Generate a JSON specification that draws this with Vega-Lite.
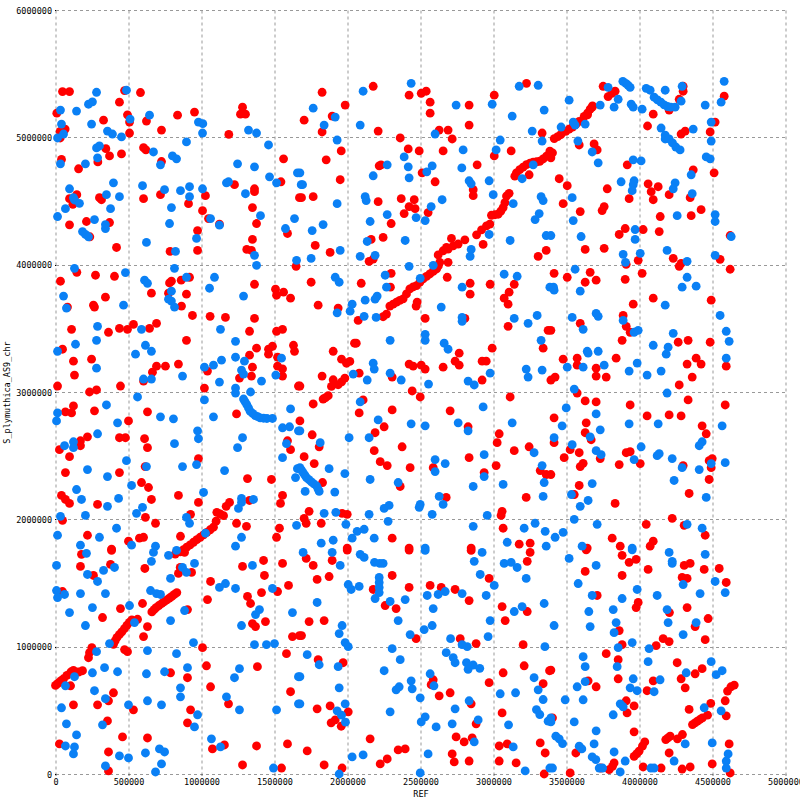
{"$schema":"https://vega.github.io/schema/vega-lite/v6.json","autosize":"none","width":730,"height":764,"padding":{"left":55.5,"top":10,"right":14.5,"bottom":26},"background":"white","config":{"view":{"stroke":null}},"datasets":{"red":[
{"x":48000,"y":5359000},{"x":96000,"y":5359000},{"x":473000,"y":5367000},{"x":582000,"y":5352000},{"x":438000,"y":5276000},{"x":9000,"y":5190000},{"x":493000,"y":5177000},{"x":507000,"y":5120000},{"x":623000,"y":5128000},{"x":329000,"y":5135000},{"x":836000,"y":5174000},{"x":952000,"y":5198000},{"x":1281000,"y":5237000},{"x":1267000,"y":5182000},{"x":1301000,"y":5182000},{"x":66000,"y":5065000},{"x":32000,"y":5047000},{"x":32000,"y":4995000},{"x":507000,"y":5034000},{"x":726000,"y":5057000},{"x":1187000,"y":5023000},{"x":603000,"y":4919000},{"x":619000,"y":4901000},{"x":345000,"y":4911000},{"x":370000,"y":4854000},{"x":452000,"y":4870000},{"x":290000,"y":4807000},{"x":41000,"y":4826000},{"x":158000,"y":4753000},{"x":726000,"y":4810000},{"x":1562000,"y":4831000},{"x":1544000,"y":4651000},{"x":1226000,"y":4628000},{"x":1363000,"y":4596000},{"x":1363000,"y":4573000},{"x":1671000,"y":4526000},{"x":1027000,"y":4542000},{"x":719000,"y":4550000},{"x":603000,"y":4518000},{"x":301000,"y":4526000},{"x":315000,"y":4510000},{"x":146000,"y":4550000},{"x":96000,"y":4518000},{"x":119000,"y":4474000},{"x":911000,"y":4479000},{"x":1007000,"y":4424000},{"x":1349000,"y":4448000},{"x":1048000,"y":4362000},{"x":1123000,"y":4318000},{"x":370000,"y":4331000},{"x":212000,"y":4339000},{"x":96000,"y":4313000},{"x":1377000,"y":4323000},{"x":1589000,"y":4245000},{"x":973000,"y":4268000},{"x":1349000,"y":4198000},{"x":235000,"y":4219000},{"x":418000,"y":4135000},{"x":785000,"y":4104000},{"x":973000,"y":4112000},{"x":1310000,"y":4120000},{"x":1342000,"y":4112000},{"x":1648000,"y":3987000},{"x":146000,"y":3940000},{"x":34000,"y":3870000},{"x":274000,"y":3917000},{"x":404000,"y":3909000},{"x":794000,"y":3870000},{"x":781000,"y":3857000},{"x":861000,"y":3878000},{"x":918000,"y":3901000},{"x":1363000,"y":3846000},{"x":657000,"y":3776000},{"x":774000,"y":3776000},{"x":897000,"y":3768000},{"x":1507000,"y":3807000},{"x":1514000,"y":3760000},{"x":1562000,"y":3784000},{"x":1610000,"y":3737000},{"x":342000,"y":3745000},{"x":82000,"y":3667000},{"x":260000,"y":3682000},{"x":267000,"y":3667000},{"x":863000,"y":3675000},
{"x":3226000,"y":5424000},{"x":2176000,"y":5401000},{"x":1826000,"y":5354000},{"x":2422000,"y":5331000},{"x":2505000,"y":5346000},{"x":2539000,"y":5362000},{"x":2566000,"y":5276000},{"x":3005000,"y":5331000},{"x":1984000,"y":5253000},{"x":2833000,"y":5253000},{"x":2566000,"y":5190000},{"x":1895000,"y":5167000},{"x":1703000,"y":5135000},{"x":1826000,"y":5042000},{"x":2210000,"y":5049000},{"x":2833000,"y":5096000},{"x":2628000,"y":5057000},{"x":2689000,"y":5057000},{"x":2717000,"y":4987000},{"x":3333000,"y":5034000},{"x":2361000,"y":4995000},{"x":1957000,"y":4893000},{"x":2416000,"y":4909000},{"x":2491000,"y":4893000},{"x":2655000,"y":4893000},{"x":3121000,"y":4893000},{"x":3005000,"y":4854000},{"x":1854000,"y":4823000},{"x":2217000,"y":4776000},{"x":2230000,"y":4784000},{"x":2888000,"y":4784000},{"x":1950000,"y":4667000},{"x":2511000,"y":4721000},{"x":2600000,"y":4651000},{"x":2861000,"y":4589000},{"x":2861000,"y":4542000},{"x":1765000,"y":4534000},{"x":1685000,"y":4526000},{"x":2210000,"y":4495000},{"x":2368000,"y":4518000},{"x":2457000,"y":4510000},{"x":2422000,"y":4456000},{"x":2463000,"y":4440000},{"x":2388000,"y":4401000},{"x":2552000,"y":4409000},{"x":2299000,"y":4323000},{"x":2244000,"y":4214000},{"x":2162000,"y":4198000},{"x":1779000,"y":4151000},{"x":1881000,"y":4096000},{"x":2929000,"y":4159000},{"x":3361000,"y":4112000},{"x":3306000,"y":4065000},{"x":2148000,"y":4026000},{"x":2176000,"y":4044000},{"x":2689000,"y":4018000},{"x":2683000,"y":3901000},{"x":2299000,"y":3932000},{"x":1751000,"y":3862000},{"x":2094000,"y":3854000},{"x":2294000,"y":3823000},{"x":2977000,"y":3846000},{"x":2840000,"y":3854000},{"x":2840000,"y":3768000},{"x":3142000,"y":3846000},{"x":3107000,"y":3784000},{"x":3073000,"y":3737000},{"x":3100000,"y":3690000},{"x":2477000,"y":3706000},{"x":2470000,"y":3675000},{"x":1799000,"y":3682000},{"x":1936000,"y":3659000},{"x":3244000,"y":4706000},
{"x":2290000,"y":3675000},{"x":2313000,"y":3690000},{"x":2336000,"y":3706000},{"x":2358000,"y":3720000},{"x":2381000,"y":3732000},{"x":2404000,"y":3770000},{"x":2427000,"y":3810000},{"x":2450000,"y":3825000},{"x":2473000,"y":3836000},{"x":2496000,"y":3862000},{"x":2518000,"y":3888000},{"x":2541000,"y":3908000},{"x":2564000,"y":3927000},{"x":2587000,"y":3947000},{"x":2610000,"y":3966000},{"x":2622000,"y":3990000},{"x":2632000,"y":4018000},{"x":2621000,"y":4076000},{"x":2655000,"y":4109000},{"x":2678000,"y":4135000},{"x":2689000,"y":4122000},{"x":2724000,"y":4148000},{"x":2758000,"y":4162000},{"x":2804000,"y":4195000},{"x":2712000,"y":4206000},{"x":2884000,"y":4234000},{"x":2918000,"y":4273000},{"x":2952000,"y":4305000},{"x":2975000,"y":4318000},{"x":2986000,"y":4388000},{"x":3010000,"y":4392000},{"x":3032000,"y":4396000},{"x":3050000,"y":4420000},{"x":3066000,"y":4448000},{"x":3078000,"y":4487000},{"x":3089000,"y":4539000},{"x":3107000,"y":4560000},{"x":3146000,"y":4695000},{"x":3157000,"y":4721000},{"x":3180000,"y":4747000},{"x":3203000,"y":4766000},{"x":3226000,"y":4786000},{"x":3250000,"y":4797000},{"x":3272000,"y":4805000},{"x":3295000,"y":4808000},{"x":3317000,"y":4812000},{"x":3340000,"y":4830000},{"x":3363000,"y":4852000},{"x":3386000,"y":4891000},{"x":3416000,"y":4990000},{"x":3440000,"y":5005000},{"x":3461000,"y":5021000},{"x":3495000,"y":5047000},{"x":3518000,"y":5064000},{"x":3541000,"y":5081000},{"x":3565000,"y":5103000},{"x":3587000,"y":5125000},{"x":3621000,"y":5164000},{"x":3644000,"y":5190000},{"x":3662000,"y":5221000},{"x":3678000,"y":5247000},
{"x":3751000,"y":5401000},{"x":3785000,"y":5320000},{"x":3810000,"y":5346000},{"x":3833000,"y":5362000},{"x":3676000,"y":5237000},{"x":3644000,"y":5177000},{"x":4299000,"y":5401000},{"x":4299000,"y":5362000},{"x":4272000,"y":5299000},{"x":4580000,"y":5323000},{"x":4203000,"y":5214000},{"x":4094000,"y":5182000},{"x":4055000,"y":5089000},{"x":4518000,"y":5120000},{"x":4313000,"y":5049000},{"x":4285000,"y":5026000},{"x":4484000,"y":5042000},{"x":3689000,"y":4948000},{"x":3710000,"y":4901000},{"x":3587000,"y":4940000},{"x":3916000,"y":4784000},{"x":4368000,"y":4745000},{"x":4511000,"y":4721000},{"x":3450000,"y":4675000},{"x":3505000,"y":4620000},{"x":3779000,"y":4596000},{"x":4059000,"y":4635000},{"x":4128000,"y":4612000},{"x":4080000,"y":4573000},{"x":4094000,"y":4510000},{"x":4203000,"y":4550000},{"x":3929000,"y":4518000},{"x":4347000,"y":4526000},{"x":3477000,"y":4479000},{"x":3594000,"y":4417000},{"x":3758000,"y":4456000},{"x":3744000,"y":4425000},{"x":4422000,"y":4432000},{"x":4142000,"y":4378000},{"x":4354000,"y":4385000},{"x":3902000,"y":4284000},{"x":3861000,"y":4237000},{"x":4025000,"y":4276000},{"x":4135000,"y":4260000},{"x":4621000,"y":4229000},{"x":3628000,"y":4120000},{"x":3758000,"y":4128000},{"x":3991000,"y":4034000},{"x":3909000,"y":4003000},{"x":4231000,"y":4050000},{"x":4272000,"y":3987000},{"x":4285000,"y":4010000},{"x":4552000,"y":4042000},{"x":4621000,"y":3964000},{"x":3415000,"y":3932000},{"x":3662000,"y":3940000},{"x":3505000,"y":3901000},{"x":3628000,"y":3862000},{"x":3703000,"y":3878000},{"x":3902000,"y":3885000},{"x":4018000,"y":3932000},{"x":4094000,"y":3737000},{"x":3957000,"y":3690000},{"x":4491000,"y":3721000},{"x":3404000,"y":4878000},{"x":3393000,"y":4839000},
{"x":938000,"y":3601000},{"x":1059000,"y":3594000},{"x":1164000,"y":3586000},{"x":1363000,"y":3578000},{"x":110000,"y":3492000},{"x":363000,"y":3469000},{"x":438000,"y":3500000},{"x":493000,"y":3492000},{"x":534000,"y":3531000},{"x":644000,"y":3500000},{"x":692000,"y":3539000},{"x":1329000,"y":3477000},{"x":1514000,"y":3477000},{"x":1555000,"y":3492000},{"x":897000,"y":3406000},{"x":48000,"y":3336000},{"x":1630000,"y":3367000},{"x":1637000,"y":3320000},{"x":1377000,"y":3344000},{"x":1459000,"y":3336000},{"x":1486000,"y":3359000},{"x":1459000,"y":3297000},{"x":1329000,"y":3289000},{"x":123000,"y":3242000},{"x":247000,"y":3258000},{"x":842000,"y":3219000},{"x":753000,"y":3203000},{"x":692000,"y":3203000},{"x":664000,"y":3156000},{"x":603000,"y":3086000},{"x":1521000,"y":3273000},{"x":1521000,"y":3203000},{"x":1555000,"y":3182000},{"x":1555000,"y":3125000},{"x":1349000,"y":3195000},{"x":1342000,"y":3125000},{"x":1041000,"y":3164000},{"x":130000,"y":3133000},{"x":1260000,"y":3109000},{"x":14000,"y":3047000},{"x":445000,"y":3047000},{"x":233000,"y":3000000},{"x":281000,"y":3016000},{"x":1020000,"y":3031000},{"x":1664000,"y":3047000},{"x":123000,"y":2891000},{"x":68000,"y":2844000},{"x":110000,"y":2836000},{"x":267000,"y":2852000},{"x":630000,"y":2844000},{"x":1240000,"y":2828000},{"x":500000,"y":2773000},{"x":1589000,"y":2617000},{"x":1610000,"y":2547000},{"x":438000,"y":2641000},{"x":479000,"y":2641000},{"x":219000,"y":2648000},{"x":171000,"y":2617000},{"x":171000,"y":2578000},{"x":610000,"y":2633000},{"x":630000,"y":2563000},{"x":27000,"y":2547000},{"x":96000,"y":2492000},{"x":979000,"y":2477000},{"x":614000,"y":2414000},{"x":68000,"y":2367000},{"x":438000,"y":2367000},{"x":1315000,"y":2320000},{"x":1479000,"y":2313000},{"x":589000,"y":2289000},{"x":637000,"y":2250000},{"x":41000,"y":2188000},{"x":68000,"y":2156000},{"x":96000,"y":2125000},{"x":842000,"y":2188000},{"x":1555000,"y":2188000},{"x":657000,"y":2156000},{"x":288000,"y":2117000},{"x":979000,"y":2133000},{"x":1541000,"y":2125000},{"x":1192000,"y":2133000},{"x":1169000,"y":2102000},{"x":1329000,"y":2148000},{"x":48000,"y":1992000},{"x":616000,"y":2016000},{"x":925000,"y":2039000},{"x":685000,"y":1969000},{"x":1240000,"y":1969000},{"x":1308000,"y":1945000},{"x":1534000,"y":1930000},{"x":219000,"y":1875000},{"x":575000,"y":1852000},{"x":603000,"y":1859000},{"x":856000,"y":1867000},{"x":1514000,"y":1859000},{"x":500000,"y":1828000},{"x":384000,"y":1766000},
{"x":1105000,"y":2055000},{"x":1128000,"y":2042000},{"x":1151000,"y":2029000},{"x":1100000,"y":1985000},{"x":1082000,"y":1938000},{"x":1059000,"y":1918000},{"x":1036000,"y":1898000},{"x":1014000,"y":1878000},{"x":991000,"y":1859000},{"x":968000,"y":1840000},{"x":945000,"y":1820000},{"x":922000,"y":1800000},{"x":899000,"y":1781000},{"x":877000,"y":1762000},{"x":854000,"y":1745000},{"x":820000,"y":1727000},
{"x":2532000,"y":3578000},{"x":2073000,"y":3562000},{"x":2804000,"y":3578000},{"x":3100000,"y":3516000},{"x":3374000,"y":3484000},{"x":3340000,"y":3344000},{"x":2048000,"y":3383000},{"x":2060000,"y":3383000},{"x":1902000,"y":3320000},{"x":2765000,"y":3305000},{"x":2991000,"y":3344000},{"x":1959000,"y":3258000},{"x":1993000,"y":3226000},{"x":2016000,"y":3240000},{"x":2737000,"y":3242000},{"x":2765000,"y":3211000},{"x":2922000,"y":3242000},{"x":2950000,"y":3242000},{"x":2422000,"y":3219000},{"x":2450000,"y":3203000},{"x":2505000,"y":3211000},{"x":2532000,"y":3180000},{"x":2655000,"y":3195000},{"x":2080000,"y":3148000},{"x":1826000,"y":3125000},{"x":2306000,"y":3117000},{"x":2922000,"y":3094000},{"x":1674000,"y":3047000},{"x":1902000,"y":3096000},{"x":1890000,"y":3044000},{"x":1936000,"y":3057000},{"x":1960000,"y":3080000},{"x":1982000,"y":3109000},{"x":2443000,"y":3008000},{"x":2498000,"y":2961000},{"x":3114000,"y":2961000},{"x":1833000,"y":2945000},{"x":1850000,"y":2955000},{"x":1868000,"y":2971000},{"x":1765000,"y":2906000},{"x":2107000,"y":2938000},{"x":2306000,"y":2859000},{"x":2080000,"y":2836000},{"x":2703000,"y":2852000},{"x":1674000,"y":2773000},{"x":2251000,"y":2727000},{"x":2826000,"y":2727000},{"x":2189000,"y":2680000},{"x":1758000,"y":2664000},{"x":3039000,"y":2672000},{"x":3025000,"y":2602000},{"x":1806000,"y":2570000},{"x":2374000,"y":2570000},{"x":2183000,"y":2539000},{"x":3142000,"y":2539000},{"x":3244000,"y":2570000},{"x":1703000,"y":2492000},{"x":2833000,"y":2484000},{"x":2224000,"y":2453000},{"x":2272000,"y":2422000},{"x":1772000,"y":2438000},{"x":3018000,"y":2422000},{"x":2429000,"y":2406000},{"x":2587000,"y":2406000},{"x":3320000,"y":2383000},{"x":3361000,"y":2352000},{"x":2936000,"y":2367000},{"x":1829000,"y":2289000},{"x":2361000,"y":2258000},{"x":2676000,"y":2172000},{"x":3224000,"y":2172000},{"x":1737000,"y":2063000},{"x":3059000,"y":2063000},{"x":3052000,"y":2031000},{"x":1703000,"y":2008000},{"x":1717000,"y":1969000},{"x":1963000,"y":2047000},{"x":1998000,"y":2039000},{"x":1820000,"y":1969000},{"x":3066000,"y":1930000},{"x":2306000,"y":1852000},{"x":3176000,"y":1805000},{"x":3251000,"y":1813000},{"x":1998000,"y":1774000},{"x":2422000,"y":1774000},{"x":2847000,"y":1774000},{"x":2267000,"y":3612000},{"x":2244000,"y":3591000},
{"x":3888000,"y":3601000},{"x":3594000,"y":3539000},{"x":3393000,"y":3484000},{"x":3909000,"y":3516000},{"x":3936000,"y":3469000},{"x":3881000,"y":3406000},{"x":4265000,"y":3391000},{"x":4333000,"y":3406000},{"x":4484000,"y":3391000},{"x":3477000,"y":3258000},{"x":3573000,"y":3266000},{"x":3573000,"y":3211000},{"x":3840000,"y":3266000},{"x":4388000,"y":3266000},{"x":4422000,"y":3219000},{"x":4326000,"y":3219000},{"x":3703000,"y":3187000},{"x":4594000,"y":3203000},{"x":3422000,"y":3117000},{"x":3393000,"y":3094000},{"x":3703000,"y":3125000},{"x":3772000,"y":3117000},{"x":4361000,"y":3117000},{"x":4272000,"y":3055000},{"x":3573000,"y":2992000},{"x":4333000,"y":2938000},{"x":3628000,"y":2930000},{"x":3703000,"y":2922000},{"x":3936000,"y":2898000},{"x":4587000,"y":2898000},{"x":3415000,"y":2797000},{"x":4052000,"y":2812000},{"x":4203000,"y":2820000},{"x":4285000,"y":2812000},{"x":3635000,"y":2758000},{"x":4429000,"y":2734000},{"x":3628000,"y":2680000},{"x":4457000,"y":2672000},{"x":3669000,"y":2625000},{"x":3415000,"y":2602000},{"x":3525000,"y":2547000},{"x":3587000,"y":2523000},{"x":3484000,"y":2484000},{"x":3909000,"y":2523000},{"x":3936000,"y":2531000},{"x":3731000,"y":2477000},{"x":3614000,"y":2440000},{"x":3594000,"y":2414000},{"x":3861000,"y":2430000},{"x":4005000,"y":2438000},{"x":4299000,"y":2422000},{"x":4477000,"y":2461000},{"x":4498000,"y":2477000},{"x":4491000,"y":2406000},{"x":3393000,"y":2352000},{"x":4477000,"y":2313000},{"x":3587000,"y":2266000},{"x":3553000,"y":2195000},{"x":4340000,"y":2203000},{"x":3833000,"y":2125000},{"x":4224000,"y":2008000},{"x":4046000,"y":1961000},{"x":4306000,"y":1953000},{"x":4450000,"y":1875000},{"x":3813000,"y":1852000},{"x":3868000,"y":1789000},{"x":4094000,"y":1828000},{"x":4073000,"y":1789000},{"x":3642000,"y":1774000},
{"x":178000,"y":1725000},{"x":384000,"y":1756000},{"x":884000,"y":1740000},{"x":171000,"y":1630000},{"x":377000,"y":1646000},{"x":612000,"y":1614000},{"x":260000,"y":1559000},{"x":1281000,"y":1630000},{"x":1425000,"y":1677000},{"x":1555000,"y":1654000},{"x":1431000,"y":1559000},{"x":932000,"y":1583000},{"x":854000,"y":1622000},{"x":842000,"y":1575000},{"x":1062000,"y":1512000},{"x":1596000,"y":1481000},{"x":1521000,"y":1433000},{"x":1411000,"y":1425000},{"x":1315000,"y":1394000},{"x":1336000,"y":1339000},{"x":1041000,"y":1370000},{"x":48000,"y":1433000},{"x":596000,"y":1339000},{"x":445000,"y":1299000},{"x":322000,"y":1229000},{"x":904000,"y":1291000},{"x":1438000,"y":1197000},{"x":1349000,"y":1181000},{"x":1370000,"y":1158000},{"x":630000,"y":1158000},{"x":603000,"y":1079000},{"x":1623000,"y":1079000},{"x":1671000,"y":1087000},{"x":1007000,"y":992000},{"x":473000,"y":977000},{"x":493000,"y":961000},{"x":1582000,"y":945000},{"x":1034000,"y":850000},{"x":1383000,"y":843000},{"x":904000,"y":756000},{"x":788000,"y":795000},{"x":1062000,"y":685000},{"x":103000,"y":693000},{"x":397000,"y":638000},{"x":1610000,"y":646000},{"x":363000,"y":575000},{"x":123000,"y":543000},{"x":288000,"y":543000},{"x":534000,"y":504000},{"x":925000,"y":504000},{"x":1185000,"y":551000},{"x":356000,"y":417000},{"x":904000,"y":402000},{"x":459000,"y":291000},{"x":630000,"y":283000},{"x":27000,"y":236000},{"x":363000,"y":173000},{"x":1157000,"y":228000},{"x":1075000,"y":197000},{"x":1377000,"y":220000},{"x":1589000,"y":236000},{"x":1281000,"y":71000},{"x":363000,"y":24000},{"x":1548000,"y":47000},
{"x":0,"y":696000},{"x":14000,"y":709000},{"x":27000,"y":722000},{"x":41000,"y":735000},{"x":55000,"y":748000},{"x":78000,"y":774000},{"x":105000,"y":801000},{"x":123000,"y":814000},{"x":158000,"y":801000},{"x":185000,"y":811000},{"x":226000,"y":913000},{"x":233000,"y":953000},{"x":249000,"y":992000},{"x":397000,"y":1018000},{"x":408000,"y":1045000},{"x":420000,"y":1071000},{"x":437000,"y":1094000},{"x":454000,"y":1116000},{"x":472000,"y":1142000},{"x":489000,"y":1168000},{"x":506000,"y":1190000},{"x":523000,"y":1210000},{"x":562000,"y":1215000},{"x":660000,"y":1273000},{"x":675000,"y":1290000},{"x":689000,"y":1307000},{"x":708000,"y":1323000},{"x":728000,"y":1339000},{"x":745000,"y":1353000},{"x":763000,"y":1368000},{"x":780000,"y":1381000},{"x":797000,"y":1394000},{"x":814000,"y":1410000},{"x":831000,"y":1425000},
{"x":1998000,"y":1759000},{"x":2422000,"y":1759000},{"x":2847000,"y":1756000},{"x":3251000,"y":1740000},{"x":1717000,"y":1693000},{"x":1895000,"y":1677000},{"x":1765000,"y":1638000},{"x":3231000,"y":1670000},{"x":1792000,"y":1528000},{"x":1874000,"y":1551000},{"x":2306000,"y":1559000},{"x":2970000,"y":1536000},{"x":2566000,"y":1481000},{"x":2642000,"y":1465000},{"x":2422000,"y":1465000},{"x":2737000,"y":1449000},{"x":2176000,"y":1449000},{"x":2833000,"y":1362000},{"x":3059000,"y":1315000},{"x":2258000,"y":1323000},{"x":2333000,"y":1299000},{"x":3231000,"y":1276000},{"x":3080000,"y":1205000},{"x":1737000,"y":1197000},{"x":1840000,"y":1205000},{"x":1685000,"y":1087000},{"x":2470000,"y":1063000},{"x":2772000,"y":1063000},{"x":2881000,"y":1024000},{"x":3203000,"y":1016000},{"x":1799000,"y":898000},{"x":1970000,"y":874000},{"x":3210000,"y":850000},{"x":3066000,"y":795000},{"x":3384000,"y":811000},{"x":2587000,"y":740000},{"x":2573000,"y":701000},{"x":2970000,"y":717000},{"x":3340000,"y":709000},{"x":2628000,"y":614000},{"x":2703000,"y":638000},{"x":2847000,"y":551000},{"x":1792000,"y":512000},{"x":1881000,"y":535000},{"x":2005000,"y":488000},{"x":3059000,"y":480000},{"x":1888000,"y":402000},{"x":1916000,"y":425000},{"x":1957000,"y":375000},{"x":2881000,"y":394000},{"x":2744000,"y":291000},{"x":2799000,"y":252000},{"x":2854000,"y":283000},{"x":2155000,"y":276000},{"x":3039000,"y":220000},{"x":3094000,"y":236000},{"x":3320000,"y":244000},{"x":1724000,"y":181000},{"x":2347000,"y":189000},{"x":2395000,"y":197000},{"x":2717000,"y":158000},{"x":2731000,"y":95000},{"x":2272000,"y":118000},{"x":2224000,"y":79000},{"x":2833000,"y":102000},{"x":3039000,"y":102000},{"x":3155000,"y":87000},{"x":3354000,"y":165000},{"x":1840000,"y":71000},{"x":1963000,"y":47000},{"x":3347000,"y":0},
{"x":3635000,"y":1761000},{"x":3881000,"y":1717000},{"x":3929000,"y":1662000},{"x":3977000,"y":1685000},{"x":3628000,"y":1591000},{"x":4059000,"y":1607000},{"x":4306000,"y":1638000},{"x":4347000,"y":1654000},{"x":4443000,"y":1607000},{"x":4546000,"y":1614000},{"x":3881000,"y":1559000},{"x":4292000,"y":1544000},{"x":4326000,"y":1536000},{"x":4594000,"y":1504000},{"x":3710000,"y":1402000},{"x":3977000,"y":1307000},{"x":3991000,"y":1347000},{"x":4326000,"y":1307000},{"x":4205000,"y":1268000},{"x":4470000,"y":1221000},{"x":4381000,"y":1158000},{"x":3861000,"y":1126000},{"x":4450000,"y":1055000},{"x":4162000,"y":1063000},{"x":4203000,"y":1040000},{"x":3881000,"y":1016000},{"x":4114000,"y":1008000},{"x":3772000,"y":945000},{"x":3854000,"y":898000},{"x":4258000,"y":874000},{"x":3648000,"y":732000},{"x":3703000,"y":685000},{"x":3854000,"y":748000},{"x":4094000,"y":732000},{"x":4285000,"y":748000},{"x":4313000,"y":677000},{"x":4381000,"y":787000},{"x":4429000,"y":827000},{"x":4052000,"y":654000},{"x":3909000,"y":575000},{"x":3963000,"y":535000},{"x":3915000,"y":480000},{"x":4587000,"y":575000},{"x":4340000,"y":507000},{"x":4488000,"y":554000},{"x":4594000,"y":457000},{"x":3963000,"y":331000},{"x":3564000,"y":165000},{"x":4203000,"y":165000},{"x":4614000,"y":236000},{"x":4498000,"y":79000},{"x":4025000,"y":55000},{"x":4148000,"y":47000},{"x":4292000,"y":39000},{"x":4347000,"y":55000},{"x":3525000,"y":8000},{"x":4621000,"y":8000},{"x":3404000,"y":441000},{"x":3393000,"y":816000},
{"x":4603000,"y":651000},{"x":4626000,"y":685000},{"x":4649000,"y":698000},{"x":4363000,"y":388000},{"x":4380000,"y":401000},{"x":4397000,"y":415000},{"x":4414000,"y":428000},{"x":4431000,"y":441000},{"x":4466000,"y":462000},{"x":4180000,"y":270000},{"x":4195000,"y":284000},{"x":4210000,"y":297000},{"x":4260000,"y":276000},{"x":4294000,"y":310000},{"x":3963000,"y":139000},{"x":3980000,"y":158000},{"x":3997000,"y":179000},{"x":4020000,"y":218000},{"x":4036000,"y":252000},{"x":3735000,"y":47000},{"x":3792000,"y":34000},{"x":3815000,"y":60000},{"x":3826000,"y":87000}
],"blue":[
{"x":281000,"y":5354000},{"x":486000,"y":5370000},{"x":226000,"y":5260000},{"x":253000,"y":5279000},{"x":34000,"y":5214000},{"x":144000,"y":5206000},{"x":644000,"y":5174000},{"x":511000,"y":5143000},{"x":41000,"y":5104000},{"x":247000,"y":5104000},{"x":979000,"y":5120000},{"x":1009000,"y":5107000},{"x":1007000,"y":5034000},{"x":356000,"y":5049000},{"x":390000,"y":5026000},{"x":452000,"y":5003000},{"x":1322000,"y":5057000},{"x":1377000,"y":5034000},{"x":55000,"y":5026000},{"x":14000,"y":4995000},{"x":897000,"y":4964000},{"x":1459000,"y":4940000},{"x":281000,"y":4917000},{"x":301000,"y":4932000},{"x":671000,"y":4885000},{"x":801000,"y":4854000},{"x":829000,"y":4831000},{"x":288000,"y":4839000},{"x":205000,"y":4792000},{"x":34000,"y":4792000},{"x":719000,"y":4784000},{"x":1247000,"y":4792000},{"x":1363000,"y":4768000},{"x":1657000,"y":4721000},{"x":1466000,"y":4690000},{"x":397000,"y":4643000},{"x":1171000,"y":4643000},{"x":1185000,"y":4651000},{"x":1514000,"y":4643000},{"x":596000,"y":4620000},{"x":1683000,"y":4628000},{"x":96000,"y":4596000},{"x":747000,"y":4589000},{"x":856000,"y":4581000},{"x":918000,"y":4612000},{"x":1007000,"y":4596000},{"x":349000,"y":4550000},{"x":438000,"y":4534000},{"x":918000,"y":4534000},{"x":1301000,"y":4557000},{"x":123000,"y":4526000},{"x":130000,"y":4508000},{"x":164000,"y":4482000},{"x":794000,"y":4448000},{"x":377000,"y":4440000},{"x":68000,"y":4440000},{"x":14000,"y":4378000},{"x":1404000,"y":4385000},{"x":267000,"y":4354000},{"x":1637000,"y":4362000},{"x":1062000,"y":4362000},{"x":1123000,"y":4310000},{"x":781000,"y":4323000},{"x":342000,"y":4315000},{"x":342000,"y":4284000},{"x":1575000,"y":4284000},{"x":185000,"y":4260000},{"x":205000,"y":4237000},{"x":226000,"y":4219000},{"x":966000,"y":4206000},{"x":623000,"y":4175000},{"x":822000,"y":4104000},{"x":1363000,"y":4073000},{"x":1377000,"y":3995000},{"x":1651000,"y":4034000},{"x":130000,"y":3971000},{"x":815000,"y":3971000},{"x":479000,"y":3938000},{"x":1089000,"y":3901000},{"x":897000,"y":3901000},{"x":610000,"y":3878000},{"x":630000,"y":3854000},{"x":794000,"y":3792000},{"x":1055000,"y":3815000},{"x":55000,"y":3753000},{"x":1288000,"y":3753000},{"x":774000,"y":3729000},{"x":794000,"y":3714000},{"x":815000,"y":3667000},{"x":466000,"y":3682000},{"x":75000,"y":3659000},
{"x":2436000,"y":5424000},{"x":2107000,"y":5362000},{"x":3176000,"y":5401000},{"x":3306000,"y":5409000},{"x":2744000,"y":5253000},{"x":2991000,"y":5260000},{"x":1765000,"y":5229000},{"x":3347000,"y":5214000},{"x":1916000,"y":5159000},{"x":3128000,"y":5167000},{"x":1840000,"y":5096000},{"x":2087000,"y":5096000},{"x":2600000,"y":5026000},{"x":3265000,"y":5049000},{"x":1929000,"y":4979000},{"x":3046000,"y":4979000},{"x":3333000,"y":4971000},{"x":2792000,"y":4901000},{"x":3018000,"y":4901000},{"x":2388000,"y":4846000},{"x":2272000,"y":4784000},{"x":2416000,"y":4768000},{"x":2580000,"y":4776000},{"x":2783000,"y":4760000},{"x":3272000,"y":4784000},{"x":2543000,"y":4729000},{"x":2176000,"y":4698000},{"x":2422000,"y":4682000},{"x":3196000,"y":4675000},{"x":1674000,"y":4721000},{"x":2833000,"y":4659000},{"x":2847000,"y":4635000},{"x":2970000,"y":4659000},{"x":1692000,"y":4628000},{"x":2998000,"y":4550000},{"x":2121000,"y":4534000},{"x":2128000,"y":4503000},{"x":2648000,"y":4510000},{"x":1929000,"y":4479000},{"x":3326000,"y":4534000},{"x":3340000,"y":4503000},{"x":3135000,"y":4479000},{"x":2573000,"y":4456000},{"x":2272000,"y":4393000},{"x":3313000,"y":4401000},{"x":3285000,"y":4354000},{"x":2470000,"y":4370000},{"x":2532000,"y":4346000},{"x":2155000,"y":4339000},{"x":1833000,"y":4315000},{"x":1758000,"y":4268000},{"x":2970000,"y":4237000},{"x":3361000,"y":4229000},{"x":2395000,"y":4190000},{"x":3114000,"y":4190000},{"x":2135000,"y":4182000},{"x":2847000,"y":4120000},{"x":2840000,"y":4065000},{"x":1950000,"y":4112000},{"x":1751000,"y":4049000},{"x":2087000,"y":4065000},{"x":2189000,"y":4073000},{"x":2422000,"y":3987000},{"x":2587000,"y":3995000},{"x":2498000,"y":3893000},{"x":3073000,"y":3925000},{"x":3162000,"y":3909000},{"x":1916000,"y":3901000},{"x":1943000,"y":3862000},{"x":2258000,"y":3917000},{"x":2267000,"y":3823000},{"x":2785000,"y":3823000},{"x":3386000,"y":3823000},{"x":2203000,"y":3753000},{"x":2189000,"y":3729000},{"x":2121000,"y":3721000},{"x":2032000,"y":3690000},{"x":2642000,"y":3667000},
{"x":4580000,"y":5440000},{"x":3785000,"y":5393000},{"x":3886000,"y":5440000},{"x":3906000,"y":5424000},{"x":3922000,"y":5409000},{"x":3936000,"y":5393000},{"x":4046000,"y":5385000},{"x":4073000,"y":5370000},{"x":4176000,"y":5370000},{"x":4292000,"y":5401000},{"x":3518000,"y":5292000},{"x":3854000,"y":5299000},{"x":4559000,"y":5276000},{"x":4285000,"y":5284000},{"x":3731000,"y":5253000},{"x":3826000,"y":5237000},{"x":3943000,"y":5260000},{"x":3957000,"y":5237000},{"x":4018000,"y":5221000},{"x":4450000,"y":5253000},{"x":4100000,"y":5315000},{"x":4123000,"y":5294000},{"x":4146000,"y":5276000},{"x":4169000,"y":5255000},{"x":4192000,"y":5242000},{"x":4215000,"y":5237000},{"x":4244000,"y":5237000},{"x":4491000,"y":5120000},{"x":3546000,"y":5120000},{"x":3559000,"y":5096000},{"x":3628000,"y":5104000},{"x":3463000,"y":5081000},{"x":4148000,"y":5073000},{"x":4368000,"y":5065000},{"x":4176000,"y":5018000},{"x":4176000,"y":4987000},{"x":4203000,"y":4987000},{"x":4226000,"y":4956000},{"x":4249000,"y":4924000},{"x":4278000,"y":4901000},{"x":4491000,"y":4971000},{"x":3578000,"y":4971000},{"x":3676000,"y":4885000},{"x":4457000,"y":4846000},{"x":4484000,"y":4831000},{"x":3957000,"y":4823000},{"x":4011000,"y":4815000},{"x":3717000,"y":4800000},{"x":4354000,"y":4706000},{"x":3874000,"y":4651000},{"x":3963000,"y":4659000},{"x":3957000,"y":4628000},{"x":3950000,"y":4581000},{"x":4244000,"y":4643000},{"x":4231000,"y":4596000},{"x":4361000,"y":4557000},{"x":3539000,"y":4526000},{"x":4258000,"y":4385000},{"x":4518000,"y":4393000},{"x":4518000,"y":4339000},{"x":3546000,"y":4346000},{"x":3970000,"y":4276000},{"x":3970000,"y":4198000},{"x":3600000,"y":4221000},{"x":3393000,"y":4229000},{"x":4628000,"y":4221000},{"x":4189000,"y":4112000},{"x":3888000,"y":4081000},{"x":3904000,"y":4018000},{"x":4005000,"y":4089000},{"x":4518000,"y":4073000},{"x":4326000,"y":4026000},{"x":3559000,"y":3964000},{"x":4326000,"y":3901000},{"x":4292000,"y":3823000},{"x":4388000,"y":3831000},{"x":3594000,"y":3792000},{"x":3411000,"y":3823000},{"x":3415000,"y":3800000},{"x":4176000,"y":3682000},
{"x":288000,"y":3516000},{"x":589000,"y":3492000},{"x":1130000,"y":3492000},{"x":137000,"y":3375000},{"x":281000,"y":3406000},{"x":1233000,"y":3398000},{"x":14000,"y":3320000},{"x":616000,"y":3367000},{"x":657000,"y":3320000},{"x":548000,"y":3297000},{"x":1233000,"y":3273000},{"x":1294000,"y":3242000},{"x":1548000,"y":3266000},{"x":1137000,"y":3250000},{"x":1082000,"y":3211000},{"x":1020000,"y":3195000},{"x":281000,"y":3187000},{"x":1274000,"y":3172000},{"x":1288000,"y":3141000},{"x":870000,"y":3125000},{"x":1509000,"y":3133000},{"x":603000,"y":3102000},{"x":657000,"y":3102000},{"x":1123000,"y":3078000},{"x":1411000,"y":3086000},{"x":1233000,"y":3031000},{"x":1233000,"y":2992000},{"x":1336000,"y":3000000},{"x":562000,"y":2961000},{"x":1020000,"y":2938000},{"x":1288000,"y":2945000},{"x":1299000,"y":2923000},{"x":1310000,"y":2901000},{"x":1322000,"y":2875000},{"x":1333000,"y":2849000},{"x":1350000,"y":2832000},{"x":1368000,"y":2815000},{"x":1385000,"y":2806000},{"x":1402000,"y":2797000},{"x":1425000,"y":2794000},{"x":1448000,"y":2792000},{"x":1486000,"y":2792000},{"x":1610000,"y":2867000},{"x":349000,"y":2898000},{"x":14000,"y":2836000},{"x":7000,"y":2773000},{"x":719000,"y":2805000},{"x":808000,"y":2789000},{"x":1082000,"y":2805000},{"x":425000,"y":2758000},{"x":1555000,"y":2719000},{"x":1603000,"y":2727000},{"x":973000,"y":2695000},{"x":979000,"y":2633000},{"x":1664000,"y":2695000},{"x":1281000,"y":2641000},{"x":288000,"y":2672000},{"x":815000,"y":2594000},{"x":123000,"y":2609000},{"x":123000,"y":2563000},{"x":62000,"y":2578000},{"x":1247000,"y":2563000},{"x":1582000,"y":2594000},{"x":1555000,"y":2484000},{"x":486000,"y":2461000},{"x":623000,"y":2414000},{"x":870000,"y":2414000},{"x":966000,"y":2430000},{"x":219000,"y":2391000},{"x":1158000,"y":2383000},{"x":356000,"y":2336000},{"x":1657000,"y":2398000},{"x":1644000,"y":2328000},{"x":521000,"y":2266000},{"x":144000,"y":2234000},{"x":1014000,"y":2211000},{"x":178000,"y":2156000},{"x":432000,"y":2164000},{"x":1274000,"y":2164000},{"x":1274000,"y":2133000},{"x":1253000,"y":2086000},{"x":1356000,"y":2156000},{"x":356000,"y":2102000},{"x":596000,"y":2094000},{"x":555000,"y":2047000},{"x":205000,"y":2031000},{"x":34000,"y":2023000},{"x":897000,"y":2016000},{"x":918000,"y":1969000},{"x":418000,"y":1930000},{"x":1651000,"y":1953000},{"x":14000,"y":1875000},{"x":301000,"y":1859000},{"x":1274000,"y":1859000},{"x":521000,"y":1797000},{"x":171000,"y":1797000},{"x":685000,"y":1789000},{"x":1027000,"y":1891000},{"x":1233000,"y":1789000},
{"x":1929000,"y":3622000},{"x":2018000,"y":3635000},{"x":2114000,"y":3594000},{"x":2196000,"y":3586000},{"x":2785000,"y":3586000},{"x":2785000,"y":3555000},{"x":3142000,"y":3578000},{"x":3237000,"y":3539000},{"x":3299000,"y":3601000},{"x":2532000,"y":3453000},{"x":2532000,"y":3406000},{"x":2292000,"y":3406000},{"x":3326000,"y":3406000},{"x":2662000,"y":3383000},{"x":2689000,"y":3336000},{"x":2176000,"y":3226000},{"x":2183000,"y":3180000},{"x":2292000,"y":3148000},{"x":2039000,"y":3141000},{"x":2135000,"y":3094000},{"x":2368000,"y":3094000},{"x":2555000,"y":3062000},{"x":2826000,"y":3086000},{"x":2868000,"y":3055000},{"x":2977000,"y":3148000},{"x":3224000,"y":3180000},{"x":3237000,"y":3117000},{"x":3333000,"y":3172000},{"x":2087000,"y":2922000},{"x":2929000,"y":2883000},{"x":2210000,"y":2781000},{"x":2436000,"y":2750000},{"x":2532000,"y":2734000},{"x":2758000,"y":2758000},{"x":3128000,"y":2758000},{"x":2826000,"y":2695000},{"x":1674000,"y":2695000},{"x":2011000,"y":2641000},{"x":2148000,"y":2641000},{"x":1813000,"y":2602000},{"x":3278000,"y":2523000},{"x":2936000,"y":2508000},{"x":2600000,"y":2469000},{"x":2669000,"y":2438000},{"x":3333000,"y":2422000},{"x":2600000,"y":2375000},{"x":1874000,"y":2398000},{"x":1982000,"y":2359000},{"x":2936000,"y":2336000},{"x":2155000,"y":2313000},{"x":2347000,"y":2289000},{"x":1674000,"y":2406000},{"x":1685000,"y":2386000},{"x":1696000,"y":2367000},{"x":1708000,"y":2347000},{"x":1719000,"y":2328000},{"x":1736000,"y":2311000},{"x":1753000,"y":2294000},{"x":1770000,"y":2278000},{"x":1788000,"y":2263000},{"x":1798000,"y":2240000},{"x":1806000,"y":2219000},{"x":3347000,"y":2289000},{"x":3066000,"y":2274000},{"x":2861000,"y":2258000},{"x":1710000,"y":2219000},{"x":1913000,"y":2214000},{"x":2628000,"y":2180000},{"x":2655000,"y":2117000},{"x":3340000,"y":2180000},{"x":2498000,"y":2117000},{"x":2491000,"y":2094000},{"x":2285000,"y":2109000},{"x":2251000,"y":2086000},{"x":1840000,"y":2047000},{"x":1920000,"y":2055000},{"x":2148000,"y":2039000},{"x":2580000,"y":2039000},{"x":2957000,"y":2031000},{"x":2278000,"y":1984000},{"x":1989000,"y":1961000},{"x":2861000,"y":1945000},{"x":3285000,"y":1969000},{"x":3210000,"y":1930000},{"x":3354000,"y":1906000},{"x":2114000,"y":1922000},{"x":2066000,"y":1906000},{"x":2032000,"y":1852000},{"x":2183000,"y":1852000},{"x":1902000,"y":1836000},{"x":1820000,"y":1813000},{"x":3094000,"y":1820000},{"x":3361000,"y":1789000},{"x":2532000,"y":1774000},
{"x":3539000,"y":3586000},{"x":3703000,"y":3617000},{"x":3717000,"y":3594000},{"x":3888000,"y":3562000},{"x":4552000,"y":3601000},{"x":3614000,"y":3492000},{"x":3963000,"y":3469000},{"x":3991000,"y":3484000},{"x":4594000,"y":3477000},{"x":4231000,"y":3461000},{"x":4614000,"y":3398000},{"x":4094000,"y":3367000},{"x":4196000,"y":3352000},{"x":4183000,"y":3297000},{"x":3642000,"y":3320000},{"x":3648000,"y":3305000},{"x":3717000,"y":3320000},{"x":4594000,"y":3266000},{"x":3984000,"y":3227000},{"x":3758000,"y":3211000},{"x":3505000,"y":3195000},{"x":3614000,"y":3195000},{"x":3929000,"y":3164000},{"x":4052000,"y":3133000},{"x":4148000,"y":3164000},{"x":3553000,"y":3023000},{"x":4189000,"y":2992000},{"x":3498000,"y":2875000},{"x":3703000,"y":2828000},{"x":3929000,"y":2750000},{"x":4128000,"y":2750000},{"x":4566000,"y":2734000},{"x":3470000,"y":2734000},{"x":3731000,"y":2703000},{"x":3415000,"y":2641000},{"x":3662000,"y":2648000},{"x":4429000,"y":2609000},{"x":4409000,"y":2578000},{"x":3539000,"y":2586000},{"x":4011000,"y":2570000},{"x":3703000,"y":2539000},{"x":3737000,"y":2508000},{"x":4135000,"y":2516000},{"x":4121000,"y":2500000},{"x":3963000,"y":2469000},{"x":4224000,"y":2477000},{"x":4292000,"y":2406000},{"x":4491000,"y":2438000},{"x":4587000,"y":2445000},{"x":4409000,"y":2391000},{"x":4237000,"y":2305000},{"x":3676000,"y":2281000},{"x":3534000,"y":2195000},{"x":4457000,"y":2172000},{"x":3648000,"y":2148000},{"x":3594000,"y":2102000},{"x":3553000,"y":2000000},{"x":3710000,"y":1961000},{"x":4326000,"y":1961000},{"x":4429000,"y":1930000},{"x":3477000,"y":1898000},{"x":3422000,"y":1859000},{"x":3607000,"y":1789000},{"x":3950000,"y":1774000},
{"x":212000,"y":1733000},{"x":7000,"y":1638000},{"x":329000,"y":1599000},{"x":404000,"y":1622000},{"x":219000,"y":1567000},{"x":288000,"y":1512000},{"x":657000,"y":1670000},{"x":671000,"y":1740000},{"x":774000,"y":1717000},{"x":829000,"y":1756000},{"x":952000,"y":1654000},{"x":870000,"y":1622000},{"x":897000,"y":1583000},{"x":788000,"y":1536000},{"x":1349000,"y":1638000},{"x":1123000,"y":1465000},{"x":1164000,"y":1496000},{"x":1233000,"y":1457000},{"x":1486000,"y":1457000},{"x":7000,"y":1441000},{"x":14000,"y":1386000},{"x":62000,"y":1410000},{"x":171000,"y":1417000},{"x":342000,"y":1417000},{"x":651000,"y":1441000},{"x":692000,"y":1417000},{"x":719000,"y":1410000},{"x":507000,"y":1323000},{"x":253000,"y":1307000},{"x":96000,"y":1268000},{"x":884000,"y":1284000},{"x":1397000,"y":1291000},{"x":1370000,"y":1252000},{"x":1623000,"y":1268000},{"x":541000,"y":1189000},{"x":788000,"y":1205000},{"x":205000,"y":1166000},{"x":1274000,"y":1166000},{"x":370000,"y":1024000},{"x":281000,"y":961000},{"x":945000,"y":1032000},{"x":1363000,"y":1016000},{"x":1445000,"y":1016000},{"x":1500000,"y":1024000},{"x":630000,"y":969000},{"x":829000,"y":945000},{"x":336000,"y":835000},{"x":425000,"y":803000},{"x":253000,"y":795000},{"x":623000,"y":787000},{"x":747000,"y":803000},{"x":904000,"y":835000},{"x":1260000,"y":827000},{"x":1226000,"y":756000},{"x":1664000,"y":764000},{"x":130000,"y":764000},{"x":68000,"y":693000},{"x":856000,"y":677000},{"x":856000,"y":606000},{"x":267000,"y":654000},{"x":1171000,"y":606000},{"x":342000,"y":591000},{"x":630000,"y":575000},{"x":500000,"y":543000},{"x":726000,"y":543000},{"x":1664000,"y":551000},{"x":41000,"y":520000},{"x":1260000,"y":504000},{"x":1514000,"y":504000},{"x":973000,"y":465000},{"x":75000,"y":394000},{"x":322000,"y":386000},{"x":952000,"y":370000},{"x":144000,"y":307000},{"x":1068000,"y":276000},{"x":68000,"y":220000},{"x":130000,"y":213000},{"x":123000,"y":158000},{"x":1130000,"y":213000},{"x":616000,"y":165000},{"x":438000,"y":142000},{"x":500000,"y":126000},{"x":712000,"y":197000},{"x":747000,"y":173000},{"x":726000,"y":79000},{"x":342000,"y":63000},{"x":1493000,"y":47000},{"x":685000,"y":16000},
{"x":1895000,"y":1740000},{"x":2532000,"y":1756000},{"x":2922000,"y":1740000},{"x":1696000,"y":1740000},{"x":2087000,"y":1725000},{"x":2114000,"y":1701000},{"x":1950000,"y":1638000},{"x":2185000,"y":1662000},{"x":2221000,"y":1654000},{"x":2244000,"y":1654000},{"x":2868000,"y":1670000},{"x":3073000,"y":1654000},{"x":3121000,"y":1662000},{"x":3162000,"y":1622000},{"x":2909000,"y":1567000},{"x":3224000,"y":1536000},{"x":2217000,"y":1544000},{"x":2217000,"y":1504000},{"x":2217000,"y":1465000},{"x":2217000,"y":1425000},{"x":2189000,"y":1378000},{"x":2005000,"y":1488000},{"x":2025000,"y":1449000},{"x":2080000,"y":1473000},{"x":3005000,"y":1481000},{"x":2669000,"y":1433000},{"x":2621000,"y":1410000},{"x":2546000,"y":1402000},{"x":2785000,"y":1417000},{"x":2950000,"y":1402000},{"x":1792000,"y":1347000},{"x":2395000,"y":1370000},{"x":2292000,"y":1355000},{"x":3347000,"y":1339000},{"x":2587000,"y":1299000},{"x":3196000,"y":1315000},{"x":3142000,"y":1276000},{"x":2347000,"y":1205000},{"x":2977000,"y":1205000},{"x":1963000,"y":1166000},{"x":1943000,"y":1103000},{"x":2580000,"y":1166000},{"x":2525000,"y":1134000},{"x":2429000,"y":1095000},{"x":2963000,"y":1079000},{"x":2706000,"y":1063000},{"x":1984000,"y":1032000},{"x":2005000,"y":1000000},{"x":2785000,"y":1016000},{"x":2820000,"y":1000000},{"x":2306000,"y":984000},{"x":3352000,"y":1000000},{"x":1724000,"y":937000},{"x":2361000,"y":898000},{"x":2676000,"y":953000},{"x":2724000,"y":914000},{"x":2737000,"y":874000},{"x":2815000,"y":874000},{"x":2861000,"y":856000},{"x":2906000,"y":830000},{"x":2826000,"y":822000},{"x":1806000,"y":858000},{"x":1936000,"y":843000},{"x":2251000,"y":811000},{"x":2566000,"y":787000},{"x":3278000,"y":756000},{"x":1674000,"y":764000},{"x":2436000,"y":732000},{"x":2443000,"y":669000},{"x":2354000,"y":685000},{"x":2333000,"y":661000},{"x":2592000,"y":693000},{"x":1943000,"y":677000},{"x":3306000,"y":661000},{"x":2498000,"y":598000},{"x":3046000,"y":630000},{"x":3151000,"y":638000},{"x":2833000,"y":575000},{"x":1674000,"y":551000},{"x":1984000,"y":551000},{"x":2737000,"y":512000},{"x":2292000,"y":488000},{"x":3340000,"y":585000},{"x":3294000,"y":506000},{"x":3317000,"y":467000},{"x":3374000,"y":415000},{"x":1929000,"y":496000},{"x":1959000,"y":462000},{"x":1986000,"y":407000},{"x":2532000,"y":449000},{"x":2505000,"y":409000},{"x":2895000,"y":425000},{"x":2717000,"y":394000},{"x":2607000,"y":370000},{"x":3103000,"y":386000},{"x":2868000,"y":252000},{"x":3135000,"y":213000},{"x":2552000,"y":158000},{"x":2107000,"y":150000},{"x":2032000,"y":134000},{"x":3217000,"y":24000},{"x":2498000,"y":8000},{"x":1943000,"y":0},{"x":3386000,"y":47000},
{"x":3518000,"y":1693000},{"x":3703000,"y":1638000},{"x":3950000,"y":1761000},{"x":4203000,"y":1740000},{"x":4450000,"y":1725000},{"x":4224000,"y":1670000},{"x":4224000,"y":1654000},{"x":3580000,"y":1496000},{"x":4518000,"y":1512000},{"x":4299000,"y":1488000},{"x":3984000,"y":1449000},{"x":4415000,"y":1417000},{"x":4587000,"y":1425000},{"x":4121000,"y":1402000},{"x":3676000,"y":1402000},{"x":3881000,"y":1378000},{"x":3820000,"y":1291000},{"x":3653000,"y":1276000},{"x":4189000,"y":1291000},{"x":3840000,"y":1189000},{"x":4196000,"y":1189000},{"x":4388000,"y":1189000},{"x":3415000,"y":1166000},{"x":3662000,"y":1158000},{"x":3826000,"y":1110000},{"x":4299000,"y":1095000},{"x":3950000,"y":1032000},{"x":3854000,"y":992000},{"x":4066000,"y":984000},{"x":3614000,"y":921000},{"x":3628000,"y":843000},{"x":3847000,"y":843000},{"x":4059000,"y":882000},{"x":4491000,"y":882000},{"x":4566000,"y":811000},{"x":4525000,"y":780000},{"x":4320000,"y":795000},{"x":3957000,"y":748000},{"x":4141000,"y":740000},{"x":3628000,"y":725000},{"x":3573000,"y":685000},{"x":3936000,"y":677000},{"x":3984000,"y":654000},{"x":4100000,"y":646000},{"x":3491000,"y":583000},{"x":3614000,"y":583000},{"x":3868000,"y":551000},{"x":3888000,"y":528000},{"x":4443000,"y":520000},{"x":4559000,"y":496000},{"x":3820000,"y":465000},{"x":3553000,"y":409000},{"x":3393000,"y":441000},{"x":3393000,"y":409000},{"x":3703000,"y":339000},{"x":3427000,"y":297000},{"x":3450000,"y":276000},{"x":3473000,"y":239000},{"x":3587000,"y":218000},{"x":3605000,"y":197000},{"x":3689000,"y":236000},{"x":4313000,"y":236000},{"x":4498000,"y":244000},{"x":3826000,"y":173000},{"x":4607000,"y":158000},{"x":4594000,"y":102000},{"x":4594000,"y":47000},{"x":4237000,"y":102000},{"x":3676000,"y":134000},{"x":3701000,"y":113000},{"x":3724000,"y":47000},{"x":3747000,"y":47000},{"x":3902000,"y":102000},{"x":3404000,"y":47000},{"x":4078000,"y":47000},{"x":4100000,"y":47000},{"x":3868000,"y":16000}
]},"encoding":{"x":{"field":"x","type":"quantitative","title":"REF","scale":{"domain":[0,5000000],"nice":false},"axis":{"values":[0,500000,1000000,1500000,2000000,2500000,3000000,3500000,4000000,4500000,5000000],"format":"d","domain":false,"tickSize":1,"tickColor":"#000000","labelFont":"DejaVu Sans Mono","labelFontSize":8.5,"labelColor":"#000000","labelPadding":2,"labelAngle":0,"labelOverlap":false,"labelFlush":false,"titleFont":"DejaVu Sans Mono","titleFontSize":8.5,"titleFontWeight":"normal","titleColor":"#000000","titlePadding":4,"grid":true,"gridColor":"#999999","gridDash":[3,3],"gridWidth":1,"gridOpacity":1}},"y":{"field":"y","type":"quantitative","title":"S_plymuthica_AS9_chr","scale":{"domain":[0,6000000],"nice":false},"axis":{"values":[0,1000000,2000000,3000000,4000000,5000000,6000000],"format":"d","domain":false,"tickSize":1,"tickColor":"#000000","labelFont":"DejaVu Sans Mono","labelFontSize":8.5,"labelColor":"#000000","labelPadding":3,"labelOverlap":false,"labelFlush":false,"titleFont":"DejaVu Sans Mono","titleFontSize":8.5,"titleFontWeight":"normal","titleColor":"#000000","titlePadding":4,"grid":true,"gridColor":"#999999","gridDash":[3,3],"gridWidth":1,"gridOpacity":1}}},"layer":[{"data":{"name":"red"},"mark":{"type":"point","filled":true,"shape":"circle","size":78,"color":"#ff0000","opacity":1,"clip":false}},{"data":{"name":"blue"},"mark":{"type":"point","filled":true,"shape":"circle","size":78,"color":"#0a80f5","opacity":1,"clip":false}}]}
